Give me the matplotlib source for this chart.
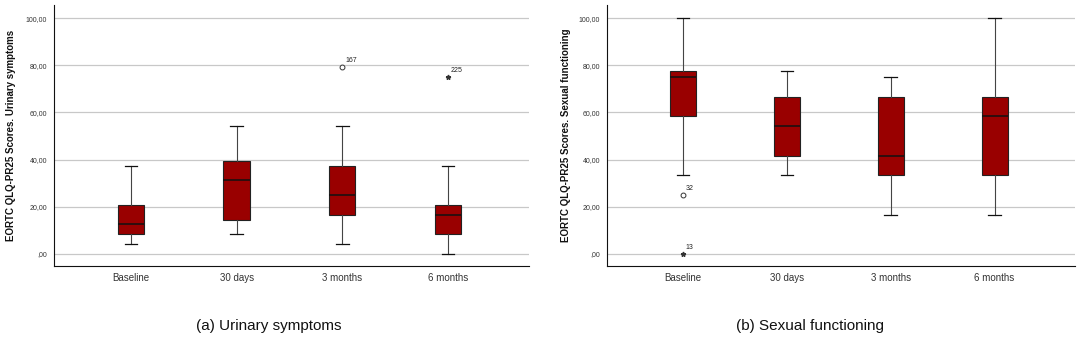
import matplotlib.pyplot as plt

plt.rcParams["font.family"] = ["Liberation Sans", "DejaVu Sans"]

groups = ["Baseline", "30 days", "3 months", "6 months"]

# urinary symptoms: (low whisker, q1, median, q3, high whisker)
uri_low = [4.17, 8.33, 4.17, 0.0]
uri_q1 = [8.33, 14.58, 16.67, 8.33]
uri_med = [12.5, 31.25, 25.0, 16.67]
uri_q3 = [20.83, 39.58, 37.5, 20.83]
uri_high = [37.5, 54.17, 54.17, 37.5]
uri_out = [(3, 79.17, "167", "o"), (4, 75.0, "225", "*")]

# sexual functioning
sex_low = [33.33, 33.33, 16.67, 16.67]
sex_q1 = [58.33, 41.67, 33.33, 33.33]
sex_med = [75.0, 54.17, 41.67, 58.33]
sex_q3 = [77.78, 66.67, 66.67, 66.67]
sex_high = [100.0, 77.78, 75.0, 100.0]
sex_out = [(1, 25.0, "32", "o"), (1, 0.0, "13", "*")]

yticks = [0, 20, 40, 60, 80, 100]
ytick_labels = [",00", "20,00", "40,00", "60,00", "80,00", "100,00"]

fill = "#990000"


def draw_panel(ax, low, q1, med, q3, high, outliers, ylabel, lab_x):
    stats = []
    for i in range(len(groups)):
        stats.append({"whislo": low[i], "q1": q1[i], "med": med[i],
                      "q3": q3[i], "whishi": high[i], "fliers": []})
    ax.bxp(stats, positions=range(1, 5), widths=0.25, capwidths=0.12,
           patch_artist=True, showfliers=False,
           boxprops=dict(facecolor=fill, edgecolor="#222222", lw=0.8),
           medianprops=dict(color="#111111", lw=1.1),
           whiskerprops=dict(color="#444444", lw=0.8),
           capprops=dict(color="#111111", lw=0.9))
    for pos, val, lab, mk in outliers:
        if mk == "o":
            ax.plot(pos, val, "o", ms=3.5, mfc="white", mec="#333333", mew=0.7)
        else:
            ax.plot(pos, val, "*", ms=3.5, color="#333333")
        ax.text(pos + 0.03, val + 1.2, lab, fontsize=5, color="#222222",
                ha="left", va="bottom")

    ax.set_xlim(0.27, 4.77)
    ax.set_ylim(-5.1, 105.5)
    ax.set_yticks(yticks)
    ax.set_yticklabels(ytick_labels, fontsize=5, color="#333333")
    ax.set_xticks(range(1, 5))
    ax.set_xticklabels(groups, fontsize=7, color="#333333")
    ax.tick_params(length=0, pad=5)
    ax.yaxis.grid(True, color="#c8c8c8", lw=0.9)
    ax.set_axisbelow(True)
    for s in ["top", "right"]:
        ax.spines[s].set_visible(False)
    ax.spines["left"].set_color("#111111")
    ax.spines["bottom"].set_color("#111111")
    ax.set_ylabel(ylabel, fontsize=7, fontweight="bold", color="#111111")
    ax.yaxis.set_label_coords(lab_x, 0.5)


fig = plt.figure(figsize=(10.8, 3.43), dpi=100)
ax1 = fig.add_axes([0.050, 0.2245, 0.440, 0.7605])
ax2 = fig.add_axes([0.562, 0.2245, 0.433, 0.7605])

draw_panel(ax1, uri_low, uri_q1, uri_med, uri_q3, uri_high, uri_out,
           "EORTC QLQ-PR25 Scores. Urinary symptoms", -0.08)
draw_panel(ax2, sex_low, sex_q1, sex_med, sex_q3, sex_high, sex_out,
           "EORTC QLQ-PR25 Scores. Sexual functioning", -0.077)

fig.text(0.249, 0.05, "(a) Urinary symptoms", ha="center", va="center",
         fontsize=11, color="#111111")
fig.text(0.750, 0.05, "(b) Sexual functioning", ha="center", va="center",
         fontsize=11, color="#111111")

fig.savefig("out.png", dpi=100)
